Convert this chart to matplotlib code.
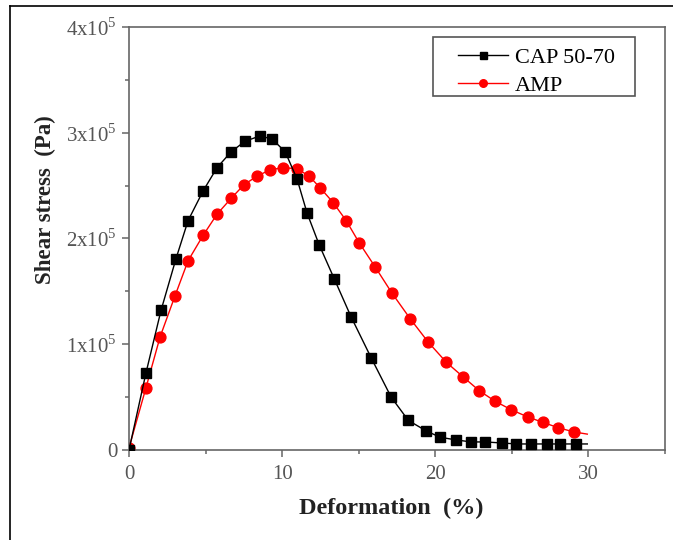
import matplotlib.pyplot as plt
from matplotlib.lines import Line2D
from matplotlib.patches import Rectangle
from matplotlib.ticker import MultipleLocator, FixedLocator

plt.rcParams['font.family'] = ['Liberation Serif', 'DejaVu Serif']
plt.rcParams['mathtext.fontset'] = 'custom'
plt.rcParams['mathtext.rm'] = 'Liberation Serif'

# deformation (%) and shear stress (Pa) for the two binders
cap_strain = [0, 1.11, 2.09, 3.07, 3.86, 4.84, 5.75, 6.67, 7.58, 8.56, 9.35,
              10.2, 10.98, 11.63, 12.42, 13.4, 14.5, 15.82, 17.12, 18.24, 19.41,
              20.33, 21.37, 22.35, 23.27, 24.38, 25.29, 26.27, 27.32, 28.17,
              29.22, 29.93]
cap_stress = [0, 0.73e5, 1.32e5, 1.81e5, 2.17e5, 2.45e5, 2.67e5, 2.82e5,
              2.92e5, 2.97e5, 2.94e5, 2.82e5, 2.56e5, 2.24e5, 1.94e5, 1.62e5,
              1.26e5, 0.87e5, 0.50e5, 0.28e5, 0.18e5, 0.12e5, 0.095e5, 0.076e5,
              0.076e5, 0.066e5, 0.057e5, 0.057e5, 0.057e5, 0.057e5, 0.057e5,
              0.057e5]

amp_strain = [0, 1.11, 2.03, 3.01, 3.86, 4.84, 5.75, 6.67, 7.52, 8.37, 9.22,
              10.07, 10.98, 11.76, 12.48, 13.33, 14.18, 15.03, 16.08, 17.19,
              18.37, 19.54, 20.72, 21.83, 22.88, 23.92, 24.97, 26.08, 27.06,
              28.04, 29.08, 29.93]
amp_stress = [0.02e5, 0.59e5, 1.07e5, 1.46e5, 1.79e5, 2.03e5, 2.23e5, 2.38e5,
              2.51e5, 2.59e5, 2.65e5, 2.67e5, 2.66e5, 2.59e5, 2.48e5, 2.34e5,
              2.17e5, 1.96e5, 1.73e5, 1.48e5, 1.24e5, 1.02e5, 0.83e5, 0.69e5,
              0.56e5, 0.46e5, 0.38e5, 0.31e5, 0.26e5, 0.21e5, 0.17e5, 0.15e5]

y_ticks = [0, 1e5, 2e5, 3e5, 4e5]
y_labels = ['0', r'1x10$^{5}$', r'2x10$^{5}$', r'3x10$^{5}$', r'4x10$^{5}$']
x_ticks = [0, 10, 20, 30]

fig = plt.figure(figsize=(6.73, 5.40), dpi=100)
ax = fig.add_axes([0.1917, 0.1667, 0.7963, 0.7833])

# last point of each series only carries the line end
marks = list(range(len(cap_strain) - 1))
ax.plot(cap_strain, cap_stress, color='black', lw=1.0, marker='s', ms=7.2,
        markevery=marks, label='CAP 50-70', zorder=3)
ax.plot(amp_strain, amp_stress, color='red', lw=1.0, marker='o', ms=7.8,
        markevery=marks, label='AMP', zorder=2)

ax.set_xlim(0, 35)
ax.set_ylim(0, 4e5)
ax.xaxis.set_major_locator(FixedLocator(x_ticks))
ax.xaxis.set_minor_locator(MultipleLocator(5))
ax.yaxis.set_major_locator(FixedLocator(y_ticks))
ax.yaxis.set_minor_locator(MultipleLocator(0.5e5))
ax.set_yticklabels(y_labels)

for s in ax.spines.values():
    s.set_color('#666666')
    s.set_linewidth(1.2)
ax.tick_params(which='both', direction='out', colors='#666666',
               labelcolor='#555555', labelsize=15, width=1.1)
ax.tick_params(which='major', length=5)
ax.tick_params(which='minor', length=3)
ax.tick_params(axis='x', pad=6)

ax.set_xlabel('Deformation  (%)', fontsize=17.5, fontweight='bold',
              color='#222222')
ax.set_ylabel('Shear stress  (Pa)', fontsize=16.5, fontweight='bold',
              color='#222222')
ax.xaxis.set_label_coords(0.489, -0.114)
ax.yaxis.set_label_coords(-0.136, 0.592)

# legend text and handles without a frame, box drawn separately
leg = ax.legend(loc='upper left', bbox_to_anchor=(0.614, 0.952), fontsize=16,
                handlelength=2.25, handletextpad=0.3, labelspacing=0.32,
                borderpad=0, borderaxespad=0, markerscale=0.7, frameon=False)
ax.add_patch(Rectangle((0.567, 0.837), 0.377, 0.139, transform=ax.transAxes,
                       fill=False, edgecolor='#555555', lw=1.2, zorder=5))

# thin black border at the top and left of the figure
fig.add_artist(Line2D([10 / 673, 1], [1 - 6 / 540, 1 - 6 / 540],
                      color='black', lw=1.2, transform=fig.transFigure))
fig.add_artist(Line2D([10 / 673, 10 / 673], [0, 1 - 6 / 540],
                      color='black', lw=1.2, transform=fig.transFigure))

fig.savefig('out.png', dpi=100)
